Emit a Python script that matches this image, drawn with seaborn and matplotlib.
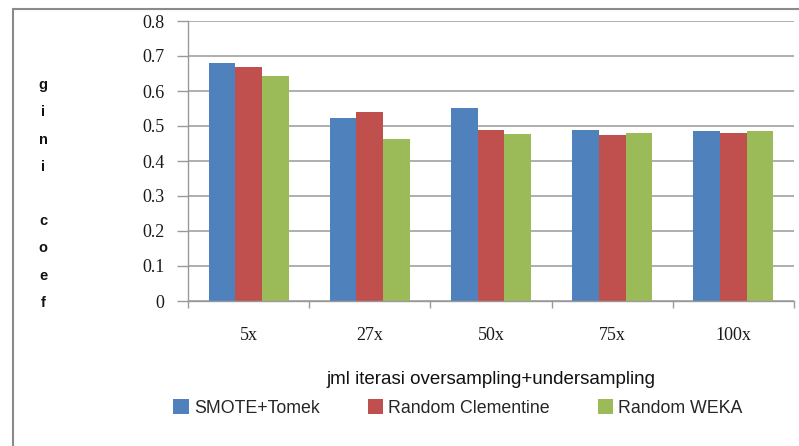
import matplotlib
matplotlib.use("Agg")
import matplotlib.pyplot as plt
import seaborn as sns
import pandas as pd
from matplotlib.lines import Line2D
from matplotlib.patches import Patch

categories = ["5x", "27x", "50x", "75x", "100x"]
series_names = ["SMOTE+Tomek", "Random Clementine", "Random WEKA"]
smote_tomek = [0.680, 0.523, 0.551, 0.489, 0.486]
random_clementine = [0.669, 0.540, 0.489, 0.474, 0.480]
random_weka = [0.643, 0.463, 0.477, 0.480, 0.486]
y_ticks = [0.0, 0.1, 0.2, 0.3, 0.4, 0.5, 0.6, 0.7, 0.8]
y_tick_labels = ["0", "0.1", "0.2", "0.3", "0.4", "0.5", "0.6", "0.7", "0.8"]
x_label = "jml iterasi oversampling+undersampling"
y_label = "gini coef"
colors = ["#4F81BD", "#C0504D", "#9BBB59"]

rows = []
for name, vals in zip(series_names, [smote_tomek, random_clementine, random_weka]):
    for c, v in zip(categories, vals):
        rows.append({"iter": c, "gini": v, "method": name})
df = pd.DataFrame(rows)

sns.set_theme(style="white")
plt.rcParams["font.family"] = ["Liberation Sans", "DejaVu Sans"]

fig = plt.figure(figsize=(7.99, 4.46), dpi=100)
ax = fig.add_axes([188 / 799, 1 - 301 / 446, (794 - 188) / 799, 280 / 446])

sns.barplot(data=df, x="iter", y="gini", hue="method", order=categories,
            hue_order=series_names, palette=colors, width=0.66, ax=ax,
            saturation=1, edgecolor="none", legend=False)

ax.set_ylim(0, 0.8)
ax.set_xlim(-0.5, len(categories) - 0.5)
ax.set_yticks(y_ticks)
ax.set_yticklabels(y_tick_labels, family="Liberation Serif", fontsize=13, color="#1a1a1a")
ax.set_xticks(range(len(categories)))
ax.set_xticklabels(categories, family="Liberation Serif", fontsize=13, color="#1a1a1a")
ax.set_xticks([i - 0.5 for i in range(len(categories) + 1)], minor=True)
ax.tick_params(axis="x", which="major", length=0, pad=19)
ax.tick_params(axis="x", which="minor", length=5, width=1, color="#999999", direction="out", bottom=True)
ax.tick_params(axis="y", which="major", length=8, width=1, color="#999999", direction="out", left=True, pad=9)
ax.set_xlabel("")
ax.set_ylabel("")

ax.yaxis.grid(True, color="#a8a8a8", linewidth=1.3)
ax.set_axisbelow(True)
for s in ["top", "right"]:
    ax.spines[s].set_visible(False)
for s in ["left", "bottom"]:
    ax.spines[s].set_color("#999999")
    ax.spines[s].set_linewidth(1)

fig.text(43 / 799, 1 - 194 / 446, "\n".join(list(y_label)), ha="center", va="center",
         fontsize=10.5, fontweight="bold", linespacing=2.2, color="#111111")

fig.text(491 / 799, 1 - 380 / 446, x_label, ha="center", va="center",
         fontsize=13.5, color="#111111")

handles = [Patch(facecolor=c, edgecolor="none") for c in colors]
fig.legend(handles, series_names, loc="center", bbox_to_anchor=(458 / 799, 1 - 408 / 446),
           ncol=3, frameon=False, fontsize=12.8, handlelength=0.85, handleheight=0.85,
           handletextpad=0.3, columnspacing=2.7)

# outer border
fig.add_artist(Line2D([12.5 / 799, 12.5 / 799], [0, 1 - 8.5 / 446], transform=fig.transFigure,
                      color="#8a8a8a", linewidth=1.5))
fig.add_artist(Line2D([12.5 / 799, 1], [1 - 8.5 / 446, 1 - 8.5 / 446], transform=fig.transFigure,
                      color="#8a8a8a", linewidth=1.5))

fig.savefig("out.png", dpi=100, facecolor="white")
